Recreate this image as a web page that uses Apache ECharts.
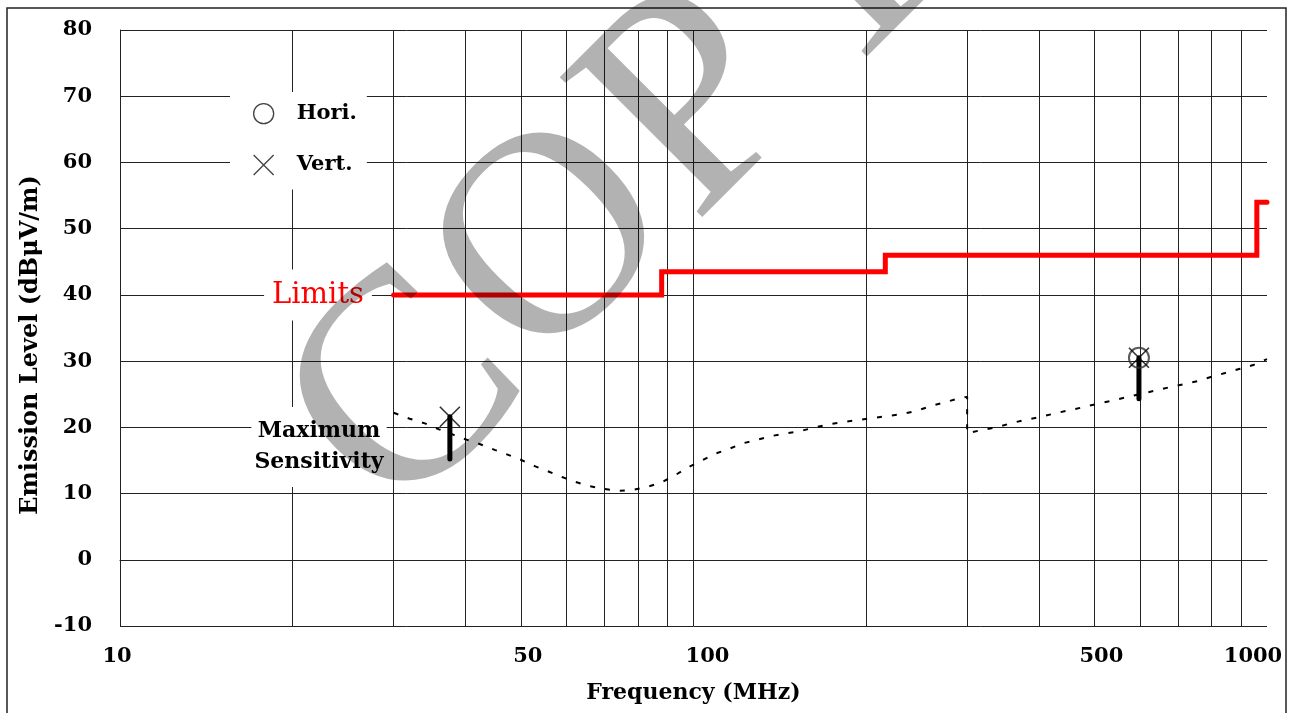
<!DOCTYPE html>
<html>
<head>
<meta charset="utf-8">
<script src="https://cdn.jsdelivr.net/npm/echarts@6/dist/echarts.min.js"></script>
<style>html,body{margin:0;padding:0;background:#fff;}#chart{width:1293px;height:713px;}</style>
</head>
<body>
<div id="chart"></div>
<script>
// ---- data ----
const gridFreqs = [10, 20, 30, 40, 50, 60, 70, 80, 90, 100, 200, 300, 400, 500, 600, 700, 800, 900];
const freqLabels = [10, 50, 100, 500, 1000];
const levelTicks = [-10, 0, 10, 20, 30, 40, 50, 60, 70, 80];

const limitFreq  = [30, 88, 88, 216, 216, 960, 960, 1000];
const limitLevel = [40, 40, 43.5, 43.5, 46, 46, 54, 54];

const sensFreq = [30, 32, 34, 36, 40, 42, 45, 47, 50, 53, 56, 59, 62, 66, 70, 74, 78, 83, 88, 93, 98, 103, 109, 115, 122, 129, 137, 145, 153, 163, 173, 183, 193, 205, 217, 231, 245, 259, 275, 291, 300,
                  300, 318, 337, 354, 377, 399, 422, 447, 476, 503, 535, 566, 600, 635, 672, 714, 758, 798, 845, 894, 946, 1000];
const sensLevel = [22.2, 21.3, 20.6, 19.7, 18.2, 17.6, 16.6, 16.0, 15.1, 14.1, 13.3, 12.5, 11.8, 11.1, 10.7, 10.4, 10.5, 11.0, 11.7, 12.8, 14.0, 14.9, 16.0, 16.7, 17.6, 18.1, 18.7, 19.1, 19.4, 20.0, 20.5, 20.8, 21.1, 21.4, 21.7, 22.0, 22.5, 23.2, 23.8, 24.4, 24.6,
                   19.1, 19.6, 20.0, 20.5, 21.1, 21.5, 22.0, 22.5, 23.0, 23.5, 24.0, 24.5, 25.0, 25.5, 26.0, 26.5, 27.0, 27.6, 28.2, 28.8, 29.4, 30.3];

const horiFreq  = [598];
const horiLevel = [30.5];
const vertFreq  = [37.6, 598];
const vertLevel = [21.6, 30.5];

const barFreq   = [37.6, 598];
const barTop    = [21.6, 30.5];
const barBottom = [15.2, 24.3];

const watermarkLetters = ['C', 'O', 'P', 'Y'];

// ---- chart ----
const FONT = "'DejaVu Serif', serif";
const chart = echarts.init(document.getElementById('chart'), null, {renderer: 'canvas'});

const labelShift = {10: [0, 6, 0, 0], 50: [0, 0, 0, 14], 100: [0, 0, 0, 28], 500: [0, 0, 0, 14], 1000: [0, 28, 0, 0]};
const rich = {};
freqLabels.forEach(v => {
  rich['r' + v] = {fontFamily: FONT, fontSize: 21, fontWeight: 'bold', color: '#000', padding: labelShift[v] || [0,0,0,0]};
});

// watermark letter placement (layout only)
const wmPos = [[410, 398, 300], [557, 246, 290], [698, 108, 305], [843, -31, 300]];
const watermark = watermarkLetters.map((ch, i) => ({
  type: 'text', z: 200, x: wmPos[i][0], y: wmPos[i][1], rotation: Math.PI / 4, silent: true,
  style: {text: ch, fill: 'rgba(0,0,0,0.3)', font: wmPos[i][2] + "px 'Liberation Serif', serif",
    align: 'center', verticalAlign: 'middle'}
}));

const option = {
  animation: false,
  backgroundColor: '#fff',
  grid: {left: 120, right: 26, top: 30, bottom: 87, containLabel: false, outerBoundsMode: 'none'},
  xAxis: {
    type: 'log', logBase: 10, min: 10, max: 1000,
    name: 'Frequency (MHz)', nameLocation: 'middle', nameGap: 56,
    nameTextStyle: {fontFamily: FONT, fontSize: 22, fontWeight: 'bold', color: '#000'},
    axisLine: {show: true, lineStyle: {color: '#222', width: 1}},
    axisTick: {show: false, customValues: gridFreqs},
    axisLabel: {
      customValues: freqLabels, margin: 20,
      fontFamily: FONT, fontSize: 21, fontWeight: 'bold', color: '#000',
      formatter: v => '{r' + v + '|' + v + '}', rich: rich
    },
    splitLine: {show: true, lineStyle: {color: '#222', width: 1}},
    minorSplitLine: {show: false}
  },
  yAxis: {
    type: 'value', min: -10, max: 80, interval: 10,
    name: 'Emission Level (dBμV/m)', nameLocation: 'middle', nameGap: 73,
    nameTextStyle: {fontFamily: FONT, fontSize: 24, fontWeight: 'bold', color: '#000', padding: [0, 34, 0, 0]},
    axisLine: {show: true, lineStyle: {color: '#222', width: 1}},
    axisTick: {show: false},
    axisLabel: {margin: 28, fontFamily: FONT, fontSize: 21, fontWeight: 'bold', color: '#000',
      customValues: levelTicks},
    splitLine: {show: true, lineStyle: {color: '#222', width: 1}}
  },
  legend: {
    orient: 'vertical', left: 230, top: 92,
    padding: [11, 10, 14, 23], backgroundColor: '#fff',
    itemWidth: 20, itemHeight: 20, itemGap: 30, selectedMode: false,
    formatter: name => '{t|' + name + '}',
    textStyle: {fontFamily: FONT, fontSize: 21, fontWeight: 'bold', color: '#000',
      rich: {t: {fontFamily: FONT, fontSize: 21, fontWeight: 'bold', color: '#000', padding: [0, 0, 0, 18]}}},
    data: [
      {name: 'Hori.', icon: 'circle', itemStyle: {color: 'rgba(0,0,0,0)', borderColor: '#111', borderWidth: 1.3}},
      {name: 'Vert.', icon: 'path://M0,0L20,20M20,0L0,20', itemStyle: {color: 'rgba(0,0,0,0)', borderColor: '#111', borderWidth: 1.3}}
    ]
  },
  series: [
    {
      name: 'Limits', type: 'line', symbol: 'none', z: 3,
      data: limitFreq.map((f, i) => [f, limitLevel[i]]),
      lineStyle: {color: '#ff0000', width: 5, cap: 'round', join: 'miter'}
    },
    {
      name: 'Maximum Sensitivity', type: 'line', symbol: 'none', z: 3,
      data: sensFreq.map((f, i) => [f, sensLevel[i]]),
      lineStyle: {color: '#000', width: 2, type: [5, 10]}
    },
    {
      name: 'bars', type: 'custom', z: 4,
      data: barFreq.map((f, i) => [f, barTop[i], barBottom[i]]),
      encode: {x: 0, y: [1, 2]},
      renderItem: (params, api) => {
        const p1 = api.coord([api.value(0), api.value(1)]);
        const p2 = api.coord([api.value(0), api.value(2)]);
        return {type: 'line', shape: {x1: p1[0], y1: p1[1], x2: p2[0], y2: p2[1]},
          style: {stroke: '#000', lineWidth: 5, lineCap: 'round'}};
      }
    },
    {
      name: 'Hori.', type: 'scatter', z: 5,
      data: horiFreq.map((f, i) => [f, horiLevel[i]]),
      symbol: 'circle', symbolSize: 20,
      itemStyle: {color: 'rgba(0,0,0,0)', borderColor: '#333', borderWidth: 2}
    },
    {
      name: 'Vert.', type: 'scatter', z: 6,
      data: vertFreq.map((f, i) => [f, vertLevel[i]]),
      symbol: 'path://M0,0L20,20M20,0L0,20', symbolSize: 20,
      itemStyle: {color: 'rgba(0,0,0,0)', borderColor: '#000', borderWidth: 1.6}
    }
  ],
  graphic: [
    {type: 'rect', z: 100, silent: true, shape: {x: 7, y: 8, width: 1279, height: 720},
      style: {fill: 'none', stroke: '#222', lineWidth: 1.5}},
    {type: 'text', z: 50, x: 318, y: 295, silent: true,
      style: {text: 'Limits', fill: '#ff0000', font: "29px 'DejaVu Serif', serif",
        align: 'center', verticalAlign: 'middle', backgroundColor: '#fff', padding: [12, 8, 10, 8]}},
    {type: 'text', z: 50, x: 319, y: 447, silent: true,
      style: {text: 'Maximum\nSensitivity', fill: '#000', font: "bold 22px 'DejaVu Serif', serif", lineHeight: 31,
        align: 'center', verticalAlign: 'middle', backgroundColor: '#fff', padding: [9, 3, 9, 3]}}
  ].concat(watermark)
};
chart.setOption(option);
</script>
</body>
</html>
